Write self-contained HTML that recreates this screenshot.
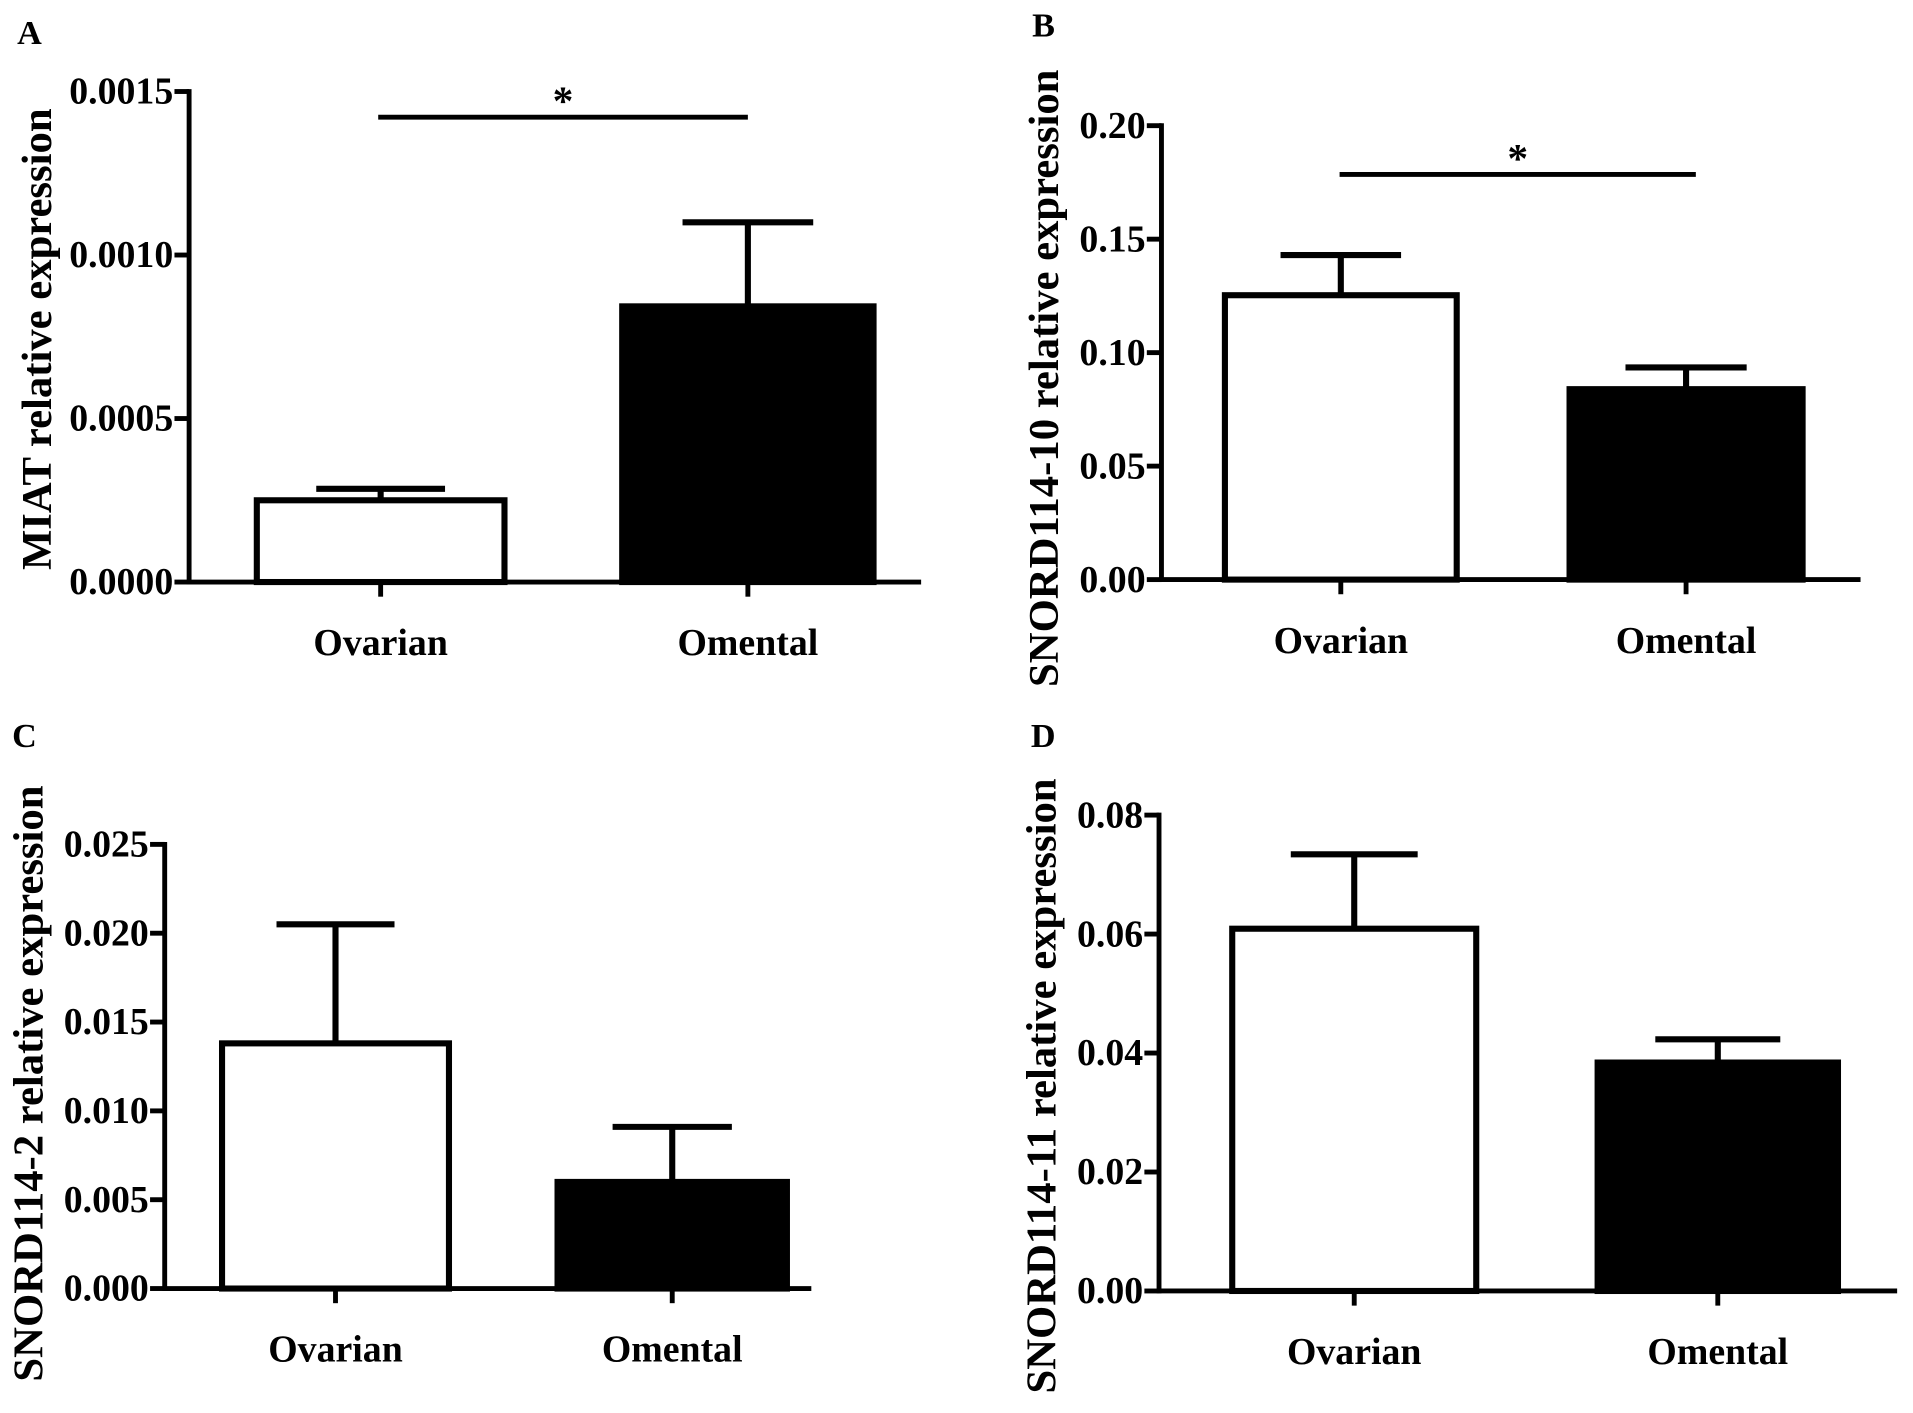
<!DOCTYPE html>
<html><head><meta charset="utf-8">
<style>
html,body{margin:0;padding:0;background:#fff;}
svg{display:block;}
text{font-family:"Liberation Serif","DejaVu Serif",serif;font-weight:bold;fill:#000;}
</style></head>
<body>
<svg id="fig" width="1913" height="1413" viewBox="0 0 1568 1158" preserveAspectRatio="none" xmlns="http://www.w3.org/2000/svg"></svg>
<script>
const categories = ["Ovarian", "Omental"];
const meansA = [0.00025, 0.000843];
const errA = [0.000285, 0.0011];
const ticksA = ["0.0000","0.0005","0.0010","0.0015"];
const meansB = [0.1253, 0.0839];
const errB = [0.143, 0.0935];
const ticksB = ["0.00","0.05","0.10","0.15","0.20"];
const meansC = [0.0138, 0.006];
const errC = [0.0205, 0.0091];
const ticksC = ["0.000","0.005","0.010","0.015","0.020","0.025"];
const meansD = [0.0609, 0.0384];
const errD = [0.0734, 0.0423];
const ticksD = ["0.00","0.02","0.04","0.06","0.08"];

const NS="http://www.w3.org/2000/svg";
const svg=document.getElementById('fig');
function el(tag,attrs,parent){const e=document.createElementNS(NS,tag);for(const k in attrs)e.setAttribute(k,attrs[k]);(parent||svg).appendChild(e);return e;}

const panels=[
 {id:"a",letter:"A",lx:14,ly:36,means:meansA,errs:errA,ticks:ticksA,max:0.0015,ax:155,top:75,bottom:477,right:755,
  cx:[312,613],bw:[203,206],title:"MIAT relative expression",tx:42,ty:278,sig:{y:96,x1:310,x2:613}},
 {id:"b",letter:"B",lx:846,ly:30,means:meansB,errs:errB,ticks:ticksB,max:0.20,ax:952,top:103,bottom:475,right:1525,
  cx:[1099,1382],bw:[190,191],title:"SNORD114-10 relative expression",tx:867,ty:310,sig:{y:143,x1:1098,x2:1390}},
 {id:"c",letter:"C",lx:10,ly:612,means:meansC,errs:errC,ticks:ticksC,max:0.025,ax:135,top:692,bottom:1056,right:665,
  cx:[275,551],bw:[186,188],title:"SNORD114-2 relative expression",tx:35,ty:888,sig:null},
 {id:"d",letter:"D",lx:845,ly:612,means:meansD,errs:errD,ticks:ticksD,max:0.08,ax:950,top:668,bottom:1058,right:1555,
  cx:[1110,1408],bw:[200,197],title:"SNORD114-11 relative expression",tx:865,ty:890,sig:null}
];

panels.forEach(p=>{
  const g=el('g',{});
  
  
  const y=v=>p.bottom-(v/p.max)*(p.bottom-p.top);
  const t=el('text',{x:p.lx,y:p.ly,'font-size':28},g);t.textContent=p.letter;
  
  
  p.means.forEach((m,i)=>{
    const x0=p.cx[i]-p.bw[i]/2, yt=y(m), ye=y(p.errs[i]);
    const capw=p.bw[i]*0.52;
    const e=el('line',{x1:p.cx[i],x2:p.cx[i],y1:yt,y2:ye,stroke:'#000','stroke-width':5},g);
    
    
    const c=el('line',{x1:p.cx[i]-capw/2,x2:p.cx[i]+capw/2,y1:ye,y2:ye,stroke:'#000','stroke-width':5},g);
    
    
    const r=el('rect',{x:x0,y:yt,width:p.bw[i],height:p.bottom-yt,fill:i===0?'#fff':'#000',stroke:'#000','stroke-width':5},g);
    
    
    const tk=el('line',{x1:p.cx[i],x2:p.cx[i],y1:p.bottom,y2:p.bottom+12,stroke:'#000','stroke-width':4},g);
    
    
    const lb=el('text',{x:p.cx[i],y:p.bottom+60,'font-size':31,'text-anchor':'middle'},g);
    lb.textContent=categories[i];
    
    
  });
  const ya=el('line',{x1:p.ax,x2:p.ax,y1:p.top-2,y2:p.bottom+2,stroke:'#000','stroke-width':4},g);
  
  
  const xa=el('line',{x1:p.ax,x2:p.right,y1:p.bottom,y2:p.bottom,stroke:'#000','stroke-width':4},g);
  
  
  p.ticks.forEach((lab,i)=>{
    const v=i*p.max/(p.ticks.length-1), yy=y(v);
    const tk=el('line',{x1:p.ax-12,x2:p.ax,y1:yy,y2:yy,stroke:'#000','stroke-width':4},g);
    
    
    const tl=el('text',{x:p.ax-13,y:yy+10,'font-size':31,'text-anchor':'end'},g);
    tl.textContent=lab;
    
    
  });
  const tt=el('text',{x:p.tx,y:p.ty,'font-size':35,'text-anchor':'middle',transform:`rotate(-90 ${p.tx} ${p.ty})`},g);
  tt.textContent=p.title;
  
  
  if(p.sig){
    const sl=el('line',{x1:p.sig.x1,x2:p.sig.x2,y1:p.sig.y,y2:p.sig.y,stroke:'#000','stroke-width':4},g);
    
    
    const st=el('text',{x:(p.sig.x1+p.sig.x2)/2,y:p.sig.y-2,'font-size':34,'text-anchor':'middle'},g);
    st.textContent='*';
    
    
  }
});
</script>
</body></html>
